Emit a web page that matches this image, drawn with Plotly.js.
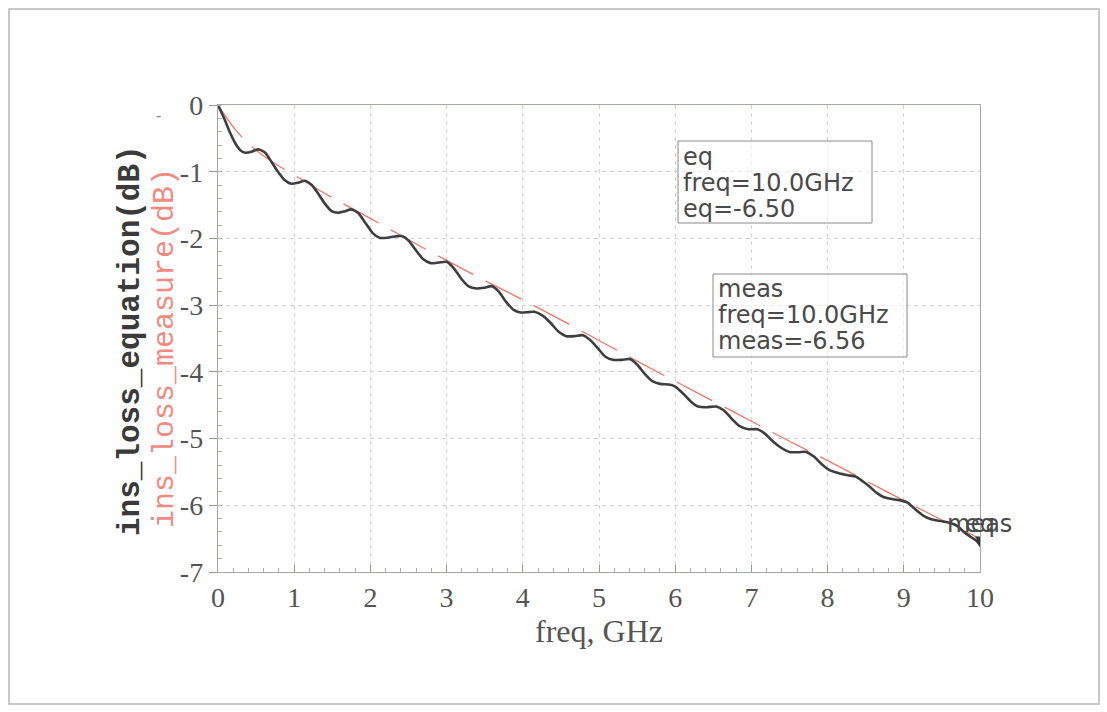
<!DOCTYPE html>
<html>
<head>
<meta charset="utf-8">
<script src="https://cdn.plot.ly/plotly-3.0.1.min.js"></script>
<style>
  html, body { margin: 0; padding: 0; background: #ffffff; }
  #chart { width: 1107px; height: 712px; }
</style>
</head>
<body>
<div id="chart"></div>
<script>
// Measured insertion loss (dB) versus frequency (GHz)
const freqMeas = [
  0.00, 0.08, 0.16, 0.24, 0.30, 0.36, 0.44, 0.53, 0.62, 0.70,
  0.78, 0.87, 0.96, 1.05, 1.14, 1.23, 1.31, 1.40, 1.49, 1.58,
  1.66, 1.75, 1.84, 1.93, 2.03, 2.12, 2.22, 2.32, 2.41, 2.50,
  2.60, 2.69, 2.79, 2.90, 3.00, 3.09, 3.19, 3.29, 3.39, 3.49,
  3.59, 3.68, 3.78, 3.88, 3.97, 4.07, 4.15, 4.25, 4.36, 4.47,
  4.57, 4.68, 4.79, 4.88, 4.98, 5.08, 5.18, 5.30, 5.41, 5.50,
  5.60, 5.70, 5.80, 5.92, 6.00, 6.10, 6.20, 6.30, 6.41, 6.54,
  6.64, 6.74, 6.84, 6.96, 7.08, 7.18, 7.28, 7.38, 7.50, 7.62,
  7.72, 7.82, 7.92, 8.02, 8.15, 8.27, 8.37, 8.46, 8.55, 8.64,
  8.74, 8.86, 8.97, 9.05, 9.16, 9.26, 9.36, 9.50, 9.62, 9.70,
  9.80, 9.90, 10.00
];
const insLossMeasure = [
  0.00, -0.20, -0.42, -0.60, -0.685, -0.715, -0.70, -0.665, -0.715, -0.85,
  -0.99, -1.12, -1.18, -1.165, -1.135, -1.20, -1.32, -1.475, -1.59, -1.615,
  -1.595, -1.565, -1.62, -1.76, -1.92, -1.99, -1.99, -1.97, -1.965, -2.03,
  -2.18, -2.31, -2.37, -2.36, -2.35, -2.44, -2.60, -2.72, -2.75, -2.74,
  -2.715, -2.79, -2.95, -3.07, -3.11, -3.105, -3.10, -3.15, -3.26, -3.40,
  -3.465, -3.465, -3.45, -3.52, -3.64, -3.77, -3.82, -3.82, -3.81, -3.89,
  -4.03, -4.14, -4.18, -4.19, -4.22, -4.32, -4.44, -4.52, -4.53, -4.52,
  -4.58, -4.70, -4.81, -4.86, -4.86, -4.93, -5.04, -5.13, -5.20, -5.205,
  -5.20, -5.27, -5.38, -5.47, -5.52, -5.55, -5.57, -5.64, -5.72, -5.81,
  -5.88, -5.91, -5.93, -5.96, -6.07, -6.16, -6.21, -6.24, -6.27, -6.31,
  -6.41, -6.49, -6.56
];

// Insertion loss from the closed-form equation (dB)
const freqEq = [0, 0.25, 0.5, 0.75, 1, 1.5, 2, 2.5, 3, 3.5, 4, 4.5, 5,
                5.5, 6, 6.5, 7, 7.5, 8, 8.5, 9, 9.5, 10];
const insLossEquation = [0, -0.40, -0.68, -0.88, -1.05, -1.39, -1.70, -2.02,
                         -2.33, -2.63, -2.92, -3.22, -3.53, -3.84, -4.14, -4.44,
                         -4.74, -5.04, -5.33, -5.63, -5.93, -6.22, -6.50];

// Marker readouts at 10 GHz
const markerFreq = [10.0, 10.0];
const markerValues = [-6.50, -6.56];
const markerNames = ["eq", "meas"];

// Axis ticks
const xTickVals = [0, 1, 2, 3, 4, 5, 6, 7, 8, 9, 10];
const yTickVals = [0, -1, -2, -3, -4, -5, -6, -7];
const yTickText = ["0", "-1", "-2", "-3", "-4", "-5", "-6", "-7"];

// Plot-area frame in page pixels, used to place boxes and labels
const plotL = 218, plotR = 980, plotT = 105, plotB = 572;
const px = X => (X - plotL) / (plotR - plotL);
const py = Y => (plotB - Y) / (plotB - plotT);

const textGray = "#4a4a4a";
const boxFont = { family: "DejaVu Sans", size: 24, color: textGray };

const traces = [
  {
    x: freqEq, y: insLossEquation, type: "scatter", mode: "lines",
    name: "eq",
    line: { color: "#ee7766", width: 1.3, dash: "40px,14px", shape: "spline" },
    hoverinfo: "skip"
  },
  {
    x: freqMeas, y: insLossMeasure, type: "scatter", mode: "lines",
    name: "meas",
    line: { color: "#3e3e3e", width: 2.6, shape: "spline", smoothing: 0.6 },
    hoverinfo: "skip"
  },
  {
    x: markerFreq, y: markerValues, type: "scatter", mode: "markers",
    marker: { symbol: "triangle-down", size: 9, color: "#333333" },
    hoverinfo: "skip"
  }
];

function line(textStr, X, Y, font) {
  return {
    text: textStr, xref: "paper", yref: "paper", x: px(X), y: py(Y),
    xanchor: "left", yanchor: "middle", showarrow: false, font: font
  };
}

const annotations = [
  // y-axis titles, one per trace
  {
    text: "<b>ins_loss_equation(dB)</b>", xref: "paper", yref: "paper",
    x: px(130), y: py(341), xanchor: "center", yanchor: "middle",
    textangle: -90, showarrow: false,
    font: { family: "Liberation Mono", size: 31, color: "#3a3a3a" }
  },
  {
    text: "ins_loss_measure(dB)", xref: "paper", yref: "paper",
    x: px(165), y: py(348), xanchor: "center", yanchor: "middle",
    textangle: -90, showarrow: false,
    font: { family: "Liberation Mono", size: 30, color: "#f28a80" }
  },
  {
    text: "-", xref: "paper", yref: "paper", x: px(158), y: py(116),
    xanchor: "center", yanchor: "middle", showarrow: false,
    font: { family: "Liberation Sans", size: 16, color: "#888888" }
  },
  // eq readout box
  line("eq", 681, 157, boxFont),
  line("freq=10.0GHz", 681, 183, boxFont),
  line("eq=-6.50", 681, 209, boxFont),
  // meas readout box
  line("meas", 716, 289, boxFont),
  line("freq=10.0GHz", 716, 315, boxFont),
  line("meas=-6.56", 716, 341, boxFont),
  // marker names beside the markers
  {
    text: markerNames[1], x: markerFreq[1], y: markerValues[1], xref: "x", yref: "y",
    xanchor: "left", yanchor: "middle", xshift: -35, yshift: 19, showarrow: false,
    font: { family: "DejaVu Sans", size: 24, color: textGray }
  },
  {
    text: markerNames[0], x: markerFreq[0], y: markerValues[0], xref: "x", yref: "y",
    xanchor: "left", yanchor: "middle", xshift: -17, yshift: 15, showarrow: false,
    font: { family: "DejaVu Sans", size: 24, color: textGray }
  }
];

const boxLine = { color: "#8a8a8a", width: 1 };
const shapes = [
  // outer page frame
  {
    type: "rect", xref: "paper", yref: "paper",
    x0: px(9), x1: px(1099), y0: py(704), y1: py(9),
    line: { color: "#b8b8b8", width: 1.5 }, layer: "below"
  },
  // readout boxes
  {
    type: "rect", xref: "paper", yref: "paper",
    x0: px(678), x1: px(872), y0: py(223), y1: py(141),
    line: boxLine, fillcolor: "rgba(255,255,255,0.6)"
  },
  {
    type: "rect", xref: "paper", yref: "paper",
    x0: px(713), x1: px(907), y0: py(357), y1: py(274),
    line: boxLine, fillcolor: "rgba(255,255,255,0.6)"
  }
];

const gridStyle = { showgrid: true, gridcolor: "#d2d2d2", gridwidth: 1, griddash: "4px,4px" };

const layout = {
  width: 1107, height: 712,
  margin: { l: plotL, r: 1107 - plotR, t: plotT, b: 712 - plotB, pad: 0 },
  paper_bgcolor: "#ffffff", plot_bgcolor: "#ffffff",
  showlegend: false,
  xaxis: Object.assign({
    range: [0, 10], tickmode: "array", tickvals: xTickVals,
    ticks: "inside", ticklen: 7, tickwidth: 1, tickcolor: "#8e9e8e",
    showline: true, mirror: true, linecolor: "#a2aaa2", linewidth: 1.2,
    zeroline: false,
    tickfont: { family: "Liberation Serif", size: 28, color: "#555555" },
    minor: { tickmode: "linear", tick0: 0, dtick: 0.2, ticks: "inside", ticklen: 4,
             tickcolor: "#b4a8bc", showgrid: false },
    title: { text: "freq, GHz", standoff: 6,
             font: { family: "Liberation Serif", size: 32, color: "#555555" } }
  }, gridStyle),
  yaxis: Object.assign({
    range: [-7, 0], tickmode: "array", tickvals: yTickVals, ticktext: yTickText,
    ticks: "outside", ticklen: 8, tickwidth: 1, tickcolor: "#8e9e8e",
    showline: true, mirror: true, linecolor: "#a2aaa2", linewidth: 1.2,
    zeroline: false,
    tickfont: { family: "Liberation Serif", size: 28, color: "#555555" },
    minor: { tickmode: "linear", tick0: 0, dtick: 0.2, ticks: "inside", ticklen: 4,
             tickcolor: "#a8b4a8", showgrid: false }
  }, gridStyle),
  annotations: annotations,
  shapes: shapes
};

Plotly.newPlot("chart", traces, layout, { displayModeBar: false, staticPlot: true });
</script>
</body>
</html>
